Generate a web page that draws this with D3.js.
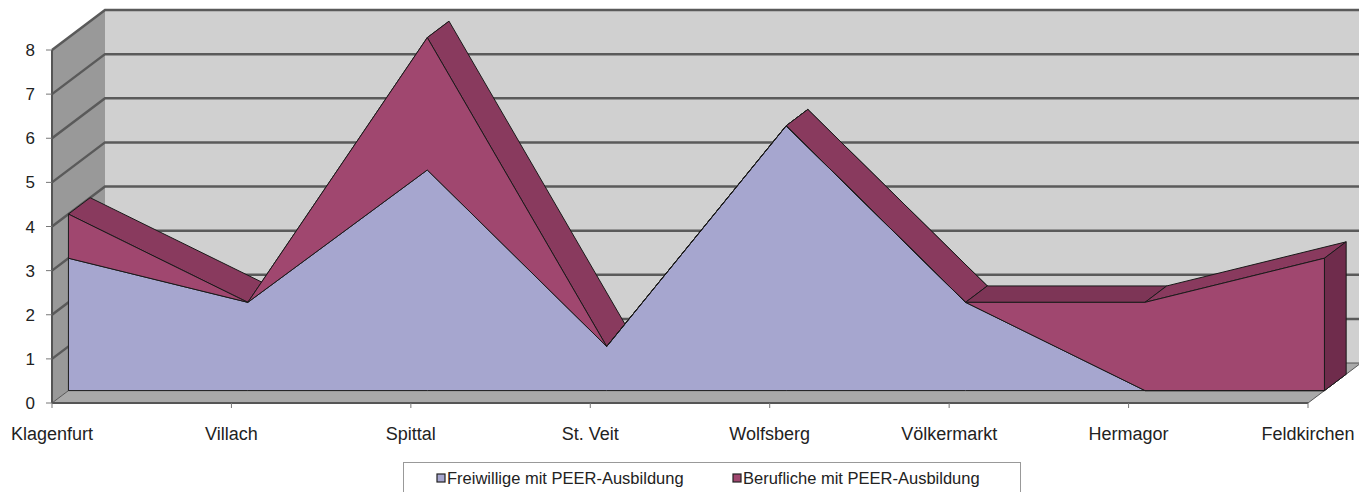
<!DOCTYPE html>
<html><head><meta charset="utf-8">
<script src="https://cdn.jsdelivr.net/npm/d3@7/dist/d3.min.js"></script>
<style>body{margin:0;background:#fff;}svg{display:block;font-family:"Liberation Sans",Arial,sans-serif;}</style>
</head><body>
<svg id="c" width="1359" height="492"></svg>
<script>
const categories = ["Klagenfurt","Villach","Spittal","St. Veit","Wolfsberg","Völkermarkt","Hermagor","Feldkirchen"];
const freiwillige = [3,2,5,1,6,2,0,0];
const berufliche  = [1,0,3,0,0,0,2,3];
const seriesNames = ["Freiwillige mit PEER-Ausbildung","Berufliche mit PEER-Ausbildung"];
const yTicks = [0,1,2,3,4,5,6,7,8];

const svg = d3.select("#c");
const x = d3.scalePoint().domain(categories).range([52,1308]);
const y = d3.scaleLinear().domain([0,8]).range([403,50]);
const DX = 53, DY = -40;          // full depth offset
const f0 = 0.31, f1 = 0.72;       // series depth band
function P(xp, v, d){ return [xp + d*DX, y(v) + d*DY]; }
const line = d3.line();

// side wall
svg.append("path").attr("d", line([[52,y(0)],[52,y(8)],[52+DX,y(8)+DY],[52+DX,y(0)+DY]])+"Z")
  .attr("fill","#999999");
// back wall
svg.append("path").attr("d", line([[52+DX,y(8)+DY],[1359,y(8)+DY],[1359,y(0)+DY],[52+DX,y(0)+DY]])+"Z")
  .attr("fill","#d0d0d0");
// floor
svg.append("path").attr("d", line([[52,y(0)],[1308,y(0)],[1308+DX,y(0)+DY],[52+DX,y(0)+DY]])+"Z")
  .attr("fill","#a9a9a9").attr("stroke","#555").attr("stroke-width",1);
// gridlines
yTicks.forEach(t=>{
  if (t===0) return;
  svg.append("path").attr("d", line([[52,y(t)],[52+DX,y(t)+DY],[1359,y(t)+DY]]))
    .attr("fill","none").attr("stroke","#5a5a5a").attr("stroke-width",2.5);
});

// stacked values
const stack = d3.stack().keys([0,1]).value((d,k)=>d[k]);
const rows = categories.map((c,i)=>[freiwillige[i], berufliche[i]]);
const layers = stack(rows);
const cols = [
  {front:"#a6a6cf", top:"#8e8eb8", side:"#7a7aa6"},
  {front:"#a0476f", top:"#893a5e", side:"#6f2c4c"}
];
const g = svg.append("g").attr("stroke","#1a1a1a").attr("stroke-width",1).attr("stroke-linejoin","round");

// top strips (both series) first
layers.forEach((L,si)=>{
  for (let i=0;i<categories.length-1;i++){
    const a = x(categories[i]), b = x(categories[i+1]);
    const va = L[i][1], vb = L[i+1][1];
    const pts=[P(a,va,f0),P(b,vb,f0),P(b,vb,f1),P(a,va,f1)];
    const flat = va===vb;
    g.append("path").attr("d", line(pts)+"Z")
      .attr("fill", flat ? d3.color(cols[si].top).darker(0.25) : cols[si].top);
  }
  // right end face
  const n = categories.length-1, xe = x(categories[n]);
  if (L[n][1] > L[n][0]) {
    g.append("path").attr("d", line([P(xe,L[n][1],f0),P(xe,L[n][1],f1),P(xe,L[n][0],f1),P(xe,L[n][0],f0)])+"Z")
      .attr("fill", cols[si].side);
  }
});
// front faces
layers.forEach((L,si)=>{
  const top = categories.map((c,i)=>P(x(c),L[i][1],f0));
  const bot = categories.map((c,i)=>P(x(c),L[i][0],f0)).reverse();
  g.append("path").attr("d", line(top.concat(bot))+"Z").attr("fill", cols[si].front);
});

// axes
svg.append("line").attr("x1",52).attr("x2",52).attr("y1",y(8)).attr("y2",y(0)).attr("stroke","#555").attr("stroke-width",2);
svg.append("line").attr("x1",52).attr("x2",1308).attr("y1",y(0)).attr("y2",y(0)).attr("stroke","#555").attr("stroke-width",2);
yTicks.forEach(t=>{
  svg.append("line").attr("x1",46).attr("x2",52).attr("y1",y(t)).attr("y2",y(t)).attr("stroke","#777").attr("stroke-width",1);
  svg.append("text").attr("x",35).attr("y",y(t)+6).attr("text-anchor","end").attr("font-size",17).attr("fill","#222").text(t);
});
categories.forEach(c=>{
  svg.append("line").attr("x1",x(c)).attr("x2",x(c)).attr("y1",y(0)).attr("y2",y(0)+5).attr("stroke","#777");
  svg.append("text").attr("x",x(c)).attr("y",440).attr("text-anchor","middle").attr("font-size",18).attr("fill","#222").text(c);
});

// legend
svg.append("rect").attr("x",403.5).attr("y",462.5).attr("width",617).attr("height",40).attr("fill","#fff").attr("stroke","#999");
const lx=[437,733];
seriesNames.forEach((s,i)=>{
  svg.append("rect").attr("x",lx[i]).attr("y",474).attr("width",8).attr("height",8).attr("fill",cols[i].front).attr("stroke","#222").attr("stroke-width",1.2);
  svg.append("text").attr("x",lx[i]+10).attr("y",484).attr("font-size",16.5).attr("fill","#222").text(s);
});
</script>
</body></html>
